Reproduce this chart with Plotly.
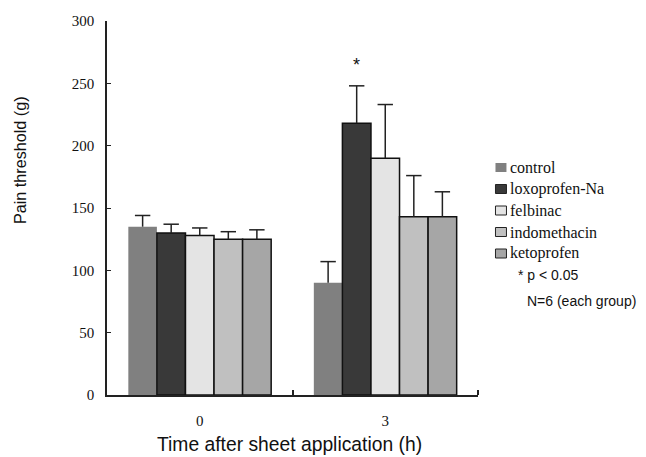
import plotly.graph_objects as go

times = ["0", "3"]
groups = ["control", "loxoprofen-Na", "felbinac", "indomethacin", "ketoprofen"]
means = {
    "control": [135, 90],
    "loxoprofen-Na": [130, 218],
    "felbinac": [128, 190],
    "indomethacin": [125, 143],
    "ketoprofen": [125, 143],
}
errors = {
    "control": [9, 17],
    "loxoprofen-Na": [7, 30],
    "felbinac": [6, 43],
    "indomethacin": [6, 33],
    "ketoprofen": [7.5, 20],
}
colors = ["#808080", "#393939", "#e4e4e4", "#c0c0c0", "#a6a6a6"]
outline = [0, 1.5, 1.5, 1.5, 1.5]
y_ticks = [0, 50, 100, 150, 200, 250, 300]
sig_group, sig_time = "loxoprofen-Na", "3"
notes = ["* p < 0.05", "N=6 (each group)"]

SERIF = "Liberation Serif, Times New Roman, serif"
SANS = "Liberation Sans, Arial, sans-serif"
bargap = 0.23

idx = list(range(len(times)))
n = len(groups)
w = (1 - bargap) / n

fig = go.Figure()
for g, c, lw in zip(groups, colors, outline):
    fig.add_trace(go.Bar(
        x=idx, y=means[g], name=g,
        marker=dict(color=c, line=dict(color="#111111", width=lw)),
        showlegend=False, hoverinfo="skip",
    ))

# upward-only error bars (stem + cap) at each bar's centre
for gi, g in enumerate(groups):
    xs, ys, cx, cy = [], [], [], []
    for ti in idx:
        xc = ti + (gi - (n - 1) / 2) * w
        top = means[g][ti] + errors[g][ti]
        xs += [xc, xc, None]
        ys += [means[g][ti], top, None]
        cx.append(xc)
        cy.append(top)
    fig.add_trace(go.Scatter(x=xs, y=ys, mode="lines", line=dict(color="#222", width=1.5),
                             showlegend=False, hoverinfo="skip"))
    fig.add_trace(go.Scatter(x=cx, y=cy, mode="markers",
                             marker=dict(symbol="line-ew", size=11,
                                         line=dict(color="#222", width=1.5)),
                             showlegend=False, hoverinfo="skip"))

# significance asterisk above the loxoprofen bar at 3 h
gi = groups.index(sig_group)
ti = times.index(sig_time)
fig.add_annotation(x=ti + (gi - (n - 1) / 2) * w, y=means[sig_group][ti] + errors[sig_group][ti],
                   xref="x", yref="y", text="*", showarrow=False, yshift=21,
                   font=dict(family=SANS, size=18, color="#111"))

# manual legend
L, H = 107, 374
def py(p):
    return (395 - p) / H
def px(p):
    return (p - L) / 371.5
for i, (g, c, lw) in enumerate(zip(groups, colors, outline)):
    cyy = 167.5 + i * 21.5
    fig.add_shape(type="rect", xref="paper", yref="paper",
                  x0=px(496), x1=px(507), y0=py(cyy + 4.5), y1=py(cyy - 4.5),
                  fillcolor=c, line=dict(color="#222" if lw else c, width=1 if lw else 0))
    fig.add_annotation(x=px(509), y=py(cyy), xref="paper", yref="paper", text=g,
                       xanchor="left", yanchor="middle", showarrow=False,
                       font=dict(family=SERIF, size=16, color="#111"))
fig.add_annotation(x=px(517), y=py(275), xref="paper", yref="paper", text=notes[0],
                   xanchor="left", yanchor="middle", showarrow=False,
                   font=dict(family=SANS, size=14, color="#111"))
fig.add_annotation(x=px(526), y=py(301), xref="paper", yref="paper", text=notes[1],
                   xanchor="left", yanchor="middle", showarrow=False,
                   font=dict(family=SANS, size=14, color="#111"))

# axis titles
fig.add_annotation(x=px(290), y=py(444), xref="paper", yref="paper",
                   text="Time after sheet application (h)", showarrow=False,
                   xanchor="center", yanchor="middle",
                   font=dict(family=SANS, size=19.3, color="#111"))
fig.add_annotation(x=px(20), y=py(160), xref="paper", yref="paper",
                   text="Pain threshold (g)", showarrow=False, textangle=-90,
                   xanchor="center", yanchor="middle",
                   font=dict(family=SANS, size=16.2, color="#111"))

fig.update_layout(
    width=646, height=457,
    margin=dict(l=107, r=167.5, t=21, b=62),
    paper_bgcolor="white", plot_bgcolor="white",
    barmode="group", bargap=bargap, bargroupgap=0,
    xaxis=dict(range=[-0.5, len(times) - 0.5], tickvals=idx, ticktext=times,
               showline=True, linecolor="#222", linewidth=1.5,
               ticks="", tickfont=dict(family=SERIF, size=15, color="#111"),
               minor=dict(tickvals=[i + 0.5 for i in idx], ticks="inside", ticklen=5,
                          tickcolor="#222", tickwidth=1.5),
               showgrid=False, zeroline=False, ticklabelstandoff=11),
    yaxis=dict(range=[0, 300], tickvals=y_ticks, showline=True, linecolor="#222",
               linewidth=1.5, ticks="inside", ticklen=4, tickcolor="#222",
               tickfont=dict(family=SERIF, size=15, color="#111"),
               showgrid=False, zeroline=False, ticklabelstandoff=8),
)
fig.write_html("out.html", config={"displayModeBar": False},
               post_script="document.body.style.margin='0';document.body.style.overflow='hidden';")
